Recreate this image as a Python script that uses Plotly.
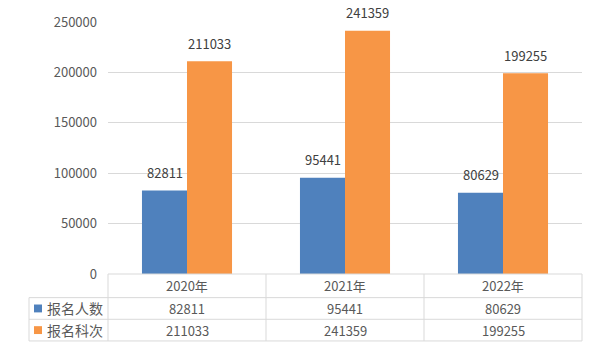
import plotly.graph_objects as go

categories = ["2020年", "2021年", "2022年"]
series_names = ["报名人数", "报名科次"]
applicants = [82811, 95441, 80629]
subjects = [211033, 241359, 199255]
y_ticks = [0, 50000, 100000, 150000, 200000, 250000]

colors = ["#4f81bd", "#f79646"]
text_color = "#595959"
line_color = "#d9d9d9"
FONT = "Noto Sans CJK SC"

W, H = 600, 364
L, R, T, B = 108, 582, 18, 274  # plot area in pixels


def px(x):
    return (x - L) / (R - L)


def py(y):
    return (B - y) / (B - T)


series_values = [applicants, subjects]

fig = go.Figure()
for name, vals, col in zip(series_names, series_values, colors):
    fig.add_trace(go.Bar(x=categories, y=vals, name=name, marker=dict(color=col, line=dict(width=0)),
                         showlegend=False, hoverinfo="x+y+name"))

annotations = []
# bar value labels
for i, vals in enumerate(series_values):
    offset = -0.142 if i == 0 else 0.142
    for k, v in enumerate(vals):
        annotations.append(dict(x=k + offset, y=v, xref="x", yref="y", text=str(v), showarrow=False,
                                xanchor="center", yanchor="middle", yshift=18,
                                font=dict(family=FONT, size=13, color="#404040")))

# data table below the plot
shapes = []
col_edges = [L, 266, 424, R]
rows_y = [274, 298, 320, 342]
for x in col_edges:
    shapes.append(dict(type="line", xref="paper", yref="paper", x0=px(x), x1=px(x), y0=py(274), y1=py(342),
                       line=dict(color=line_color, width=1)))
shapes.append(dict(type="line", xref="paper", yref="paper", x0=px(29), x1=px(29), y0=py(298), y1=py(342),
                   line=dict(color=line_color, width=1)))
for y in rows_y:
    x0 = L if y == 274 else 29
    shapes.append(dict(type="line", xref="paper", yref="paper", x0=px(x0), x1=px(R), y0=py(y), y1=py(y),
                       line=dict(color=line_color, width=1)))

row_centers = [286, 309, 331]
for c in categories:
    annotations.append(dict(x=c, y=py(row_centers[0]), xref="x", yref="paper", text=c, showarrow=False,
                            xanchor="center", yanchor="middle",
                            font=dict(family=FONT, size=13, color=text_color)))
for r, (name, vals, col) in enumerate(zip(series_names, series_values, colors)):
    yc = row_centers[r + 1]
    for k, v in enumerate(vals):
        annotations.append(dict(x=categories[k], y=py(yc), xref="x", yref="paper", text=str(v), showarrow=False,
                                xanchor="center", yanchor="middle",
                                font=dict(family=FONT, size=13, color=text_color)))
    shapes.append(dict(type="rect", xref="paper", yref="paper", x0=px(34), x1=px(42), y0=py(yc + 4), y1=py(yc - 4),
                       fillcolor=col, line=dict(width=0)))
    annotations.append(dict(x=px(45), y=py(yc), xref="paper", yref="paper", text=name, showarrow=False,
                            xanchor="left", yanchor="middle",
                            font=dict(family=FONT, size=14, color=text_color)))

fig.update_layout(
    width=W, height=H,
    margin=dict(l=L, r=W - R, t=T, b=H - B, pad=0),
    paper_bgcolor="white", plot_bgcolor="white",
    barmode="group", bargap=0.43, bargroupgap=0,
    font=dict(family=FONT, size=13, color=text_color),
    xaxis=dict(showticklabels=False, showgrid=False, zeroline=False, showline=False, range=[-0.5, 2.5]),
    yaxis=dict(range=[0, 250000], tickvals=y_ticks, ticktext=[str(t) for t in y_ticks],
               showgrid=True, gridcolor=line_color, gridwidth=1, zeroline=False, showline=False,
               ticks="", ticklabelstandoff=10, tickfont=dict(family=FONT, size=13, color=text_color)),
    shapes=shapes, annotations=annotations,
)

fig.write_html("out.html", config={"displayModeBar": False},
               post_script="document.body.style.margin='0';")
